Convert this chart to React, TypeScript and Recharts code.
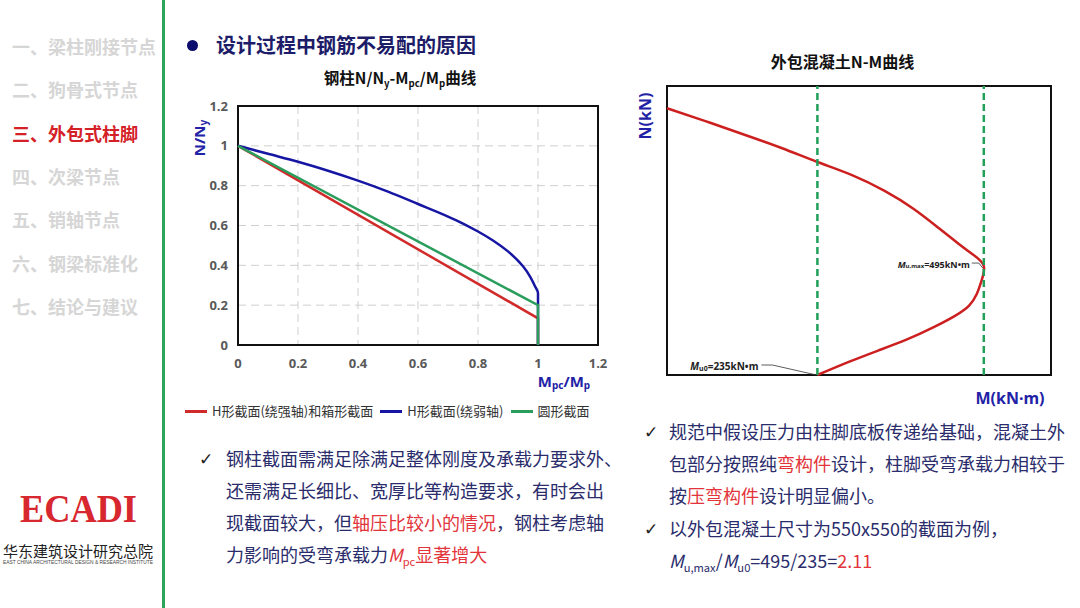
import React from "react";
import {
  CartesianGrid,
  Line,
  LineChart,
  ReferenceArea,
  ReferenceDot,
  ReferenceLine,
  XAxis,
  YAxis,
} from "recharts";

// sidebar
const menuItems = [
  "一、梁柱刚接节点",
  "二、狗骨式节点",
  "三、外包式柱脚",
  "四、次梁节点",
  "五、销轴节点",
  "六、钢梁标准化",
  "七、结论与建议",
];
const activeMenu = 2;

// left chart: N/Ny vs Mpc/Mp
const ratioTicks = [0, 0.2, 0.4, 0.6, 0.8, 1, 1.2];
const seriesNames = ["H形截面(绕强轴)和箱形截面", "H形截面(绕弱轴)", "圆形截面"];
const strongM = [0, 1, 1];
const strongN = [1, 0.134, 0];
const weakM = [0, 0.1, 0.2, 0.3, 0.4, 0.5, 0.6, 0.7, 0.75, 0.8, 0.85, 0.9, 0.95, 0.975, 0.99, 1, 1];
const weakN = [1, 0.96, 0.92, 0.875, 0.825, 0.77, 0.708, 0.645, 0.61, 0.57, 0.525, 0.47, 0.395, 0.34, 0.295, 0.26, 0];
const roundM = [0, 1, 1];
const roundN = [1, 0.2, 0];

// right chart: N-M curve of encased concrete
const momentTicks = [0, 100, 200, 300, 400, 500, 600];
const axialTicks = [0, 1000, 2000, 3000, 4000, 5000, 6000];
const curveM = [0, 60, 120, 180, 235, 290, 340, 385, 425, 455, 479, 495, 491, 484, 472, 450, 416, 375, 330, 285, 235];
const curveN = [6000, 5710, 5410, 5100, 4790, 4490, 4140, 3740, 3300, 2960, 2700, 2450, 2100, 1820, 1560, 1330, 1070, 800, 550, 300, 0];
const mu0 = 235;
const muMax = 495;
const muMaxN = 2450;

const RED = "#d12a2a";
const BLUE = "#1616a3";
const GREEN = "#2a9d5c";
const AXIS_BLUE = "#2222a6";
const INK = "#2a2c6b";
const HILITE = "#e2343a";
const FONT = '"Noto Sans CJK SC", "Noto Sans", sans-serif';
const LATIN = '"Noto Sans", "Liberation Sans", sans-serif';

const zip = (xs: number[], ys: number[]) => xs.map((m, i) => ({ m, n: ys[i] }));
const strongData = zip(strongM, strongN);
const weakData = zip(weakM, weakN);
const roundData = zip(roundM, roundN);
const curveData = zip(curveM, curveN);

const tickStyle = { fontSize: 13, fontWeight: 700, fill: "#595959", fontFamily: '"Open Sans", sans-serif' };

function Sub({ children }: { children: React.ReactNode }) {
  return <span style={{ fontSize: "0.62em", position: "relative", top: "0.3em" }}>{children}</span>;
}

function TextRow({
  left,
  cy,
  size = 18,
  color = INK,
  weight = 400,
  children,
}: {
  left: number;
  cy: number;
  size?: number;
  color?: string;
  weight?: number;
  children: React.ReactNode;
}) {
  return (
    <div
      style={{
        position: "absolute",
        left,
        top: cy - size * 0.7,
        fontSize: size,
        lineHeight: `${size * 1.4}px`,
        color,
        fontWeight: weight,
        whiteSpace: "nowrap",
        fontFamily: FONT,
      }}
    >
      {children}
    </div>
  );
}

function Check({ left, cy }: { left: number; cy: number }) {
  return (
    <div style={{ position: "absolute", left, top: cy - 12, fontSize: 17, lineHeight: "24px", color: "#222", fontFamily: '"DejaVu Sans", sans-serif' }}>
      ✓
    </div>
  );
}

function RatioYLabel(props: any) {
  const { viewBox } = props;
  const x = viewBox.x + 19;
  const y = viewBox.y + 32;
  return (
    <text x={x} y={y} transform={`rotate(-90 ${x} ${y})`} textAnchor="middle" dominantBaseline="central" fill={AXIS_BLUE} fontSize={15} fontWeight={700} fontFamily={LATIN}>
      N/N<tspan dy={4} fontSize={10}>y</tspan>
    </text>
  );
}

function RatioXLabel(props: any) {
  const { viewBox } = props;
  const x = viewBox.x + viewBox.width - 34;
  const y = viewBox.y + 36;
  return (
    <text x={x} y={y} textAnchor="middle" dominantBaseline="central" fill={AXIS_BLUE} fontSize={15} fontWeight={700} fontFamily={LATIN}>
      M<tspan dy={4} fontSize={10}>pc</tspan>
      <tspan dy={-4}>/M</tspan>
      <tspan dy={4} fontSize={10}>p</tspan>
    </text>
  );
}

function NLabel(props: any) {
  const { viewBox } = props;
  const x = viewBox.x + 25;
  const y = viewBox.y + 30;
  return (
    <text x={x} y={y} transform={`rotate(-90 ${x} ${y})`} textAnchor="middle" dominantBaseline="central" fill={AXIS_BLUE} fontSize={16} fontWeight={700} fontFamily={LATIN}>
      N(kN)
    </text>
  );
}

function MLabel(props: any) {
  const { viewBox } = props;
  return (
    <text x={viewBox.x + viewBox.width - 41} y={viewBox.y + 23} textAnchor="middle" dominantBaseline="central" fill={AXIS_BLUE} fontSize={16} fontWeight={700} fontFamily={LATIN}>
      M(kN·m)
    </text>
  );
}

function MaxNote(props: any) {
  const { viewBox } = props;
  const cx = viewBox.x + viewBox.width / 2;
  const cy = viewBox.y + viewBox.height / 2;
  return (
    <g>
      <path d={`M${cx - 12} ${cy - 3} L${cx - 5} ${cy - 3} L${cx - 1} ${cy + 2}`} stroke="#333" strokeWidth={0.8} fill="none" />
      <text x={cx - 14} y={cy - 2} textAnchor="end" dominantBaseline="central" fontSize={9} fontWeight={700} fill="#222" fontFamily={LATIN}>
        <tspan fontStyle="italic">M</tspan>
        <tspan dy={2} fontSize={6}>u,max</tspan>
        <tspan dy={-2}>=495kN•m</tspan>
      </text>
    </g>
  );
}

function ZeroNote(props: any) {
  const { viewBox } = props;
  const cx = viewBox.x + viewBox.width / 2;
  const cy = viewBox.y + viewBox.height / 2;
  return (
    <g>
      <path d={`M${cx - 56} ${cy - 10} L${cx - 45} ${cy - 10} L${cx - 1} ${cy}`} stroke="#333" strokeWidth={0.8} fill="none" />
      <text x={cx - 59} y={cy - 9} textAnchor="end" dominantBaseline="central" fontSize={10} fontWeight={700} fill="#222" fontFamily={LATIN}>
        <tspan fontStyle="italic">M</tspan>
        <tspan dy={2} fontSize={7}>u0</tspan>
        <tspan dy={-2}>=235kN•m</tspan>
      </text>
    </g>
  );
}

function SteelChart() {
  return (
    <LineChart width={440} height={312} margin={{ top: 16, right: 22, left: 0, bottom: 0 }}>
      <CartesianGrid stroke="#cfcfcf" strokeDasharray="8 5" />
      <XAxis
        type="number"
        dataKey="m"
        domain={[0, 1.2]}
        ticks={ratioTicks}
        height={57}
        axisLine={false}
        tickLine={false}
        tickMargin={8}
        tick={tickStyle}
        label={{ content: RatioXLabel }}
      />
      <YAxis
        type="number"
        dataKey="n"
        domain={[0, 1.2]}
        ticks={ratioTicks}
        width={58}
        axisLine={false}
        tickLine={false}
        tickMargin={4}
        tick={tickStyle}
        label={{ content: RatioYLabel }}
      />
      <Line data={strongData} dataKey="n" name={seriesNames[0]} type="linear" stroke={RED} strokeWidth={2.5} dot={false} isAnimationActive={false} />
      <Line data={weakData} dataKey="n" name={seriesNames[1]} type="monotoneY" stroke={BLUE} strokeWidth={2.5} dot={false} isAnimationActive={false} />
      <Line data={roundData} dataKey="n" name={seriesNames[2]} type="linear" stroke={GREEN} strokeWidth={2.5} dot={false} isAnimationActive={false} />
      <ReferenceArea x1={0} x2={1.2} y1={0} y2={1.2} fill="none" fillOpacity={0} stroke="#111" strokeWidth={2} />
    </LineChart>
  );
}

function ConcreteChart() {
  return (
    <LineChart width={450} height={330} data={curveData} margin={{ top: 6, right: 19, left: 0, bottom: 0 }}>
      <CartesianGrid stroke="#cfcfcf" strokeDasharray="7 4" />
      <XAxis type="number" dataKey="m" domain={[0, 600]} ticks={momentTicks} height={35} axisLine={false} tickLine={false} tick={false} label={{ content: MLabel }} />
      <YAxis type="number" dataKey="n" domain={[0, 6500]} ticks={axialTicks} width={47} axisLine={false} tickLine={false} tick={false} label={{ content: NLabel }} />
      <Line dataKey="n" type="natural" stroke="#cc1f1f" strokeWidth={2.5} dot={false} isAnimationActive={false} />
      <ReferenceLine x={mu0} stroke="#22a05a" strokeWidth={2.5} strokeDasharray="7 4" />
      <ReferenceLine x={muMax} stroke="#22a05a" strokeWidth={2.5} strokeDasharray="7 4" />
      <ReferenceDot x={muMax} y={muMaxN} r={1} fill="none" stroke="none" label={{ content: MaxNote }} />
      <ReferenceDot x={mu0} y={0} r={1} fill="none" stroke="none" label={{ content: ZeroNote }} />
      <ReferenceArea x1={0} x2={600} y1={0} y2={6500} fill="none" fillOpacity={0} stroke="#111" strokeWidth={2} />
    </LineChart>
  );
}

export default function App() {
  const legendColors = [RED, BLUE, GREEN];
  return (
    <div style={{ position: "absolute", left: 0, top: 0, width: 1080, height: 608, background: "#fff", overflow: "hidden", fontFamily: FONT }}>
      {/* sidebar */}
      {menuItems.map((item, i) => (
        <TextRow key={item} left={12} cy={46.7 + i * 43.3} size={18} weight={700} color={i === activeMenu ? "#d42027" : "#d6d6d6"}>
          {item}
        </TextRow>
      ))}
      <div style={{ position: "absolute", left: 162, top: 0, width: 3, height: 608, background: "#2ca55a" }} />
      <svg style={{ position: "absolute", left: 0, top: 480 }} width={160} height={100}>
        <text x={20} y={42} fontFamily='"Liberation Serif", serif' fontWeight={700} fontSize={40} fill="#d7282f" textLength={117} lengthAdjust="spacingAndGlyphs">
          ECADI
        </text>
        <text x={3} y={77} fontFamily={FONT} fontSize={15} fill="#222" textLength={150} lengthAdjust="spacingAndGlyphs">
          华东建筑设计研究总院
        </text>
        <text x={3} y={84} fontFamily='"Liberation Sans", sans-serif' fontSize={4.5} fill="#444" textLength={150} lengthAdjust="spacingAndGlyphs">
          EAST CHINA ARCHITECTURAL DESIGN &amp; RESEARCH INSTITUTE
        </text>
      </svg>

      {/* heading */}
      <div style={{ position: "absolute", left: 187, top: 40, width: 11, height: 11, borderRadius: "50%", background: "#0c0c6c" }} />
      <TextRow left={216} cy={45} size={20} weight={700} color="#1c1c68">
        设计过程中钢筋不易配的原因
      </TextRow>

      {/* left chart */}
      <div style={{ position: "absolute", left: 180, top: 66, width: 440, textAlign: "center", fontSize: 15.5, lineHeight: "22px", fontWeight: 700, color: "#111" }}>
        钢柱N/N<Sub>y</Sub>-M<Sub>pc</Sub>/M<Sub>p</Sub>曲线
      </div>
      <div style={{ position: "absolute", left: 180, top: 90 }}>
        <SteelChart />
      </div>
      <div style={{ position: "absolute", left: 185, top: 401, display: "flex", alignItems: "center", fontSize: 13, lineHeight: "20px", color: "#333", whiteSpace: "nowrap" }}>
        {seriesNames.map((name, i) => (
          <span key={name} style={{ display: "flex", alignItems: "center", marginRight: 7 }}>
            <span style={{ width: 22, height: 3, background: legendColors[i], marginRight: 5 }} />
            {name}
          </span>
        ))}
      </div>

      <Check left={199} cy={459} />
      <TextRow left={226} cy={459}>钢柱截面需满足除满足整体刚度及承载力要求外、</TextRow>
      <TextRow left={226} cy={491}>还需满足长细比、宽厚比等构造要求，有时会出</TextRow>
      <TextRow left={226} cy={523}>
        现截面较大，但<span style={{ color: HILITE }}>轴压比较小的情况</span>，钢柱考虑轴
      </TextRow>
      <TextRow left={226} cy={555}>
        力影响的受弯承载力
        <span style={{ color: HILITE }}>
          <i>M</i>
          <Sub>pc</Sub>显著增大
        </span>
      </TextRow>

      {/* right chart */}
      <div style={{ position: "absolute", left: 620, top: 50, width: 445, textAlign: "center", fontSize: 16, lineHeight: "22px", fontWeight: 700, color: "#111" }}>
        外包混凝土N-M曲线
      </div>
      <div style={{ position: "absolute", left: 620, top: 80 }}>
        <ConcreteChart />
      </div>

      <Check left={644} cy={432} />
      <TextRow left={669} cy={432}>规范中假设压力由柱脚底板传递给基础，混凝土外</TextRow>
      <TextRow left={669} cy={464}>
        包部分按照纯<span style={{ color: HILITE }}>弯构件</span>设计，柱脚受弯承载力相较于
      </TextRow>
      <TextRow left={669} cy={496}>
        按<span style={{ color: HILITE }}>压弯构件</span>设计明显偏小。
      </TextRow>
      <Check left={644} cy={529} />
      <TextRow left={669} cy={529}>以外包混凝土尺寸为550x550的截面为例，</TextRow>
      <TextRow left={669} cy={561}>
        <i>M</i>
        <Sub>u,max</Sub>/<i>M</i>
        <Sub>u0</Sub>=495/235=<span style={{ color: HILITE }}>2.11</span>
      </TextRow>
    </div>
  );
}
